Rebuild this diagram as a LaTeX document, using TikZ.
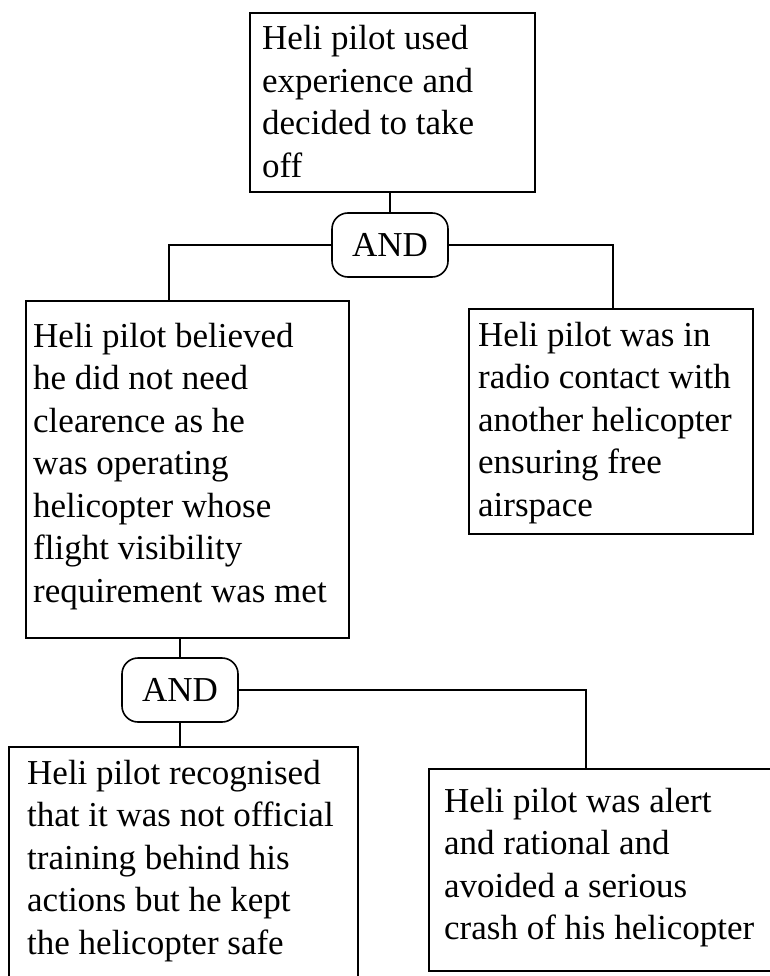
\documentclass[tikz,border=0pt]{standalone}
\usepackage{fontspec}
\setmainfont{Liberation Serif}
\begin{document}
\begin{tikzpicture}[x=1pt,y=-1pt,
  box/.style={draw, line width=1.6pt, inner sep=0pt, anchor=north west},
  gate/.style={draw, line width=1.6pt, rounded corners=16pt, inner sep=0pt,
    minimum width=116pt, minimum height=64pt, font=\fontsize{35}{42}\selectfont},
  txt/.style={anchor=base west, inner sep=0pt, align=left,
    font=\fontsize{35}{42.5}\selectfont},
  wire/.style={line width=1.6pt}]
\useasboundingbox (0,0) rectangle (770,976);
% boxes
\node[box, minimum width=285pt, minimum height=179pt] (top) at (249,12) {};
\node[box, minimum width=323pt, minimum height=337pt] (left) at (25,300) {};
\node[box, minimum width=284pt, minimum height=225pt] (right) at (468,308) {};
\node[box, minimum width=349pt, minimum height=250pt] (bl) at (8,746) {};
\node[box, minimum width=350pt, minimum height=202pt] (br) at (428,768) {};
% gates
\node[gate] (and1) at (390,245) {AND};
\node[gate] (and2) at (180,690) {AND};
% texts (anchored at the baseline of their last line)
\node[txt] (t1) at (262,177.5) {Heli pilot used\\experience and\\decided to take\\off};
\node[txt] (t2) at (33,602) {Heli pilot believed\\he did not need\\clearence as he\\was operating\\helicopter whose\\flight visibility\\requirement was met};
\node[txt] (t3) at (478,516) {Heli pilot was in\\radio contact with\\another helicopter\\ensuring free\\airspace};
\node[txt] (t4) at (27,954) {Heli pilot recognised\\that it was not official\\training behind his\\actions but he kept\\the helicopter safe};
\node[txt] (t5) at (444,939.5) {Heli pilot was alert\\and rational and\\avoided a serious\\crash of his helicopter};
% connectors
\draw[wire] (and1.north) -- (and1.north |- top.south);
\draw[wire] (and1.west) -| ([xshift=144pt]left.north west);
\draw[wire] (and1.east) -| ([xshift=145pt]right.north west);
\draw[wire] (and2.north) -- (and2.north |- left.south);
\draw[wire] (and2.south) -- (and2.south |- bl.north);
\draw[wire] (and2.east) -| ([xshift=158pt]br.north west);
\end{tikzpicture}
\end{document}
